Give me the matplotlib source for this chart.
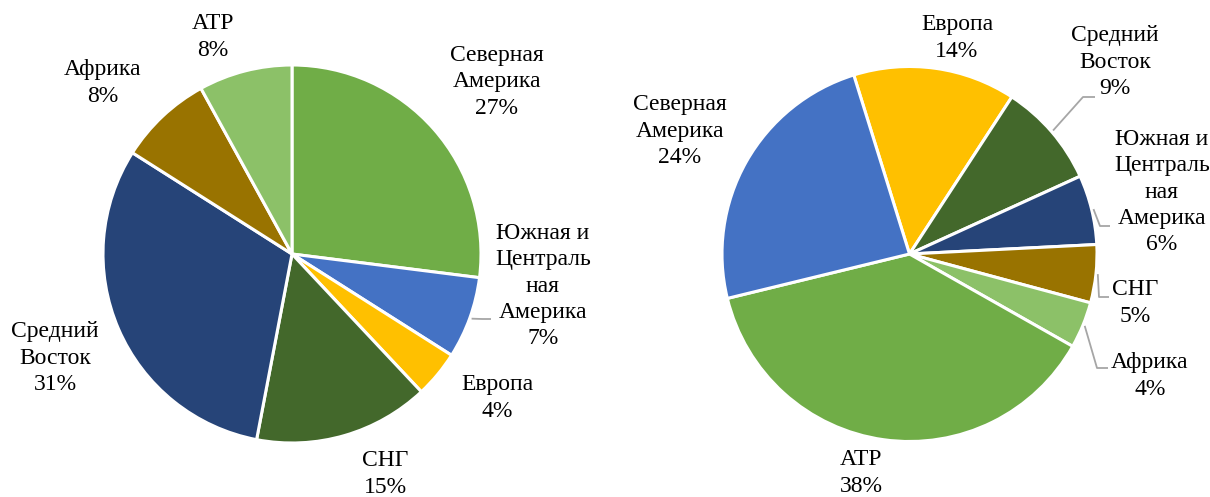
import numpy as np
import matplotlib
matplotlib.use('Agg')
import matplotlib.pyplot as plt

plt.rcParams['font.family'] = ['Liberation Serif', 'DejaVu Serif']

# left chart
left_names = ['Северная\nАмерика', 'Южная и\nЦентраль\nная\nАмерика', 'Европа',
              'СНГ', 'Средний\nВосток', 'Африка', 'АТР']
left_values = [27, 7, 4, 15, 31, 8, 8]
left_colors = ['#70AD47', '#4472C4', '#FFC000', '#43682B', '#264478', '#997300', '#8CC168']

# right chart
right_names = ['Европа', 'Средний\nВосток', 'Южная и\nЦентраль\nная\nАмерика', 'СНГ',
               'Африка', 'АТР', 'Северная\nАмерика']
right_values = [14, 9, 6, 5, 4, 38, 24]
right_colors = ['#FFC000', '#43682B', '#264478', '#997300', '#8CC168', '#70AD47', '#4472C4']

W, H = 1210, 497

# label centres in picture pixels (x, y from top)
left_lab = [(497, 82), (543, 286), (497, 398), (385, 474), (55, 358), (103, 83), (213, 37)]
right_lab = [(957, 38), (1115, 62), (1162, 192), (1135, 303), (1150, 376), (861, 473), (680, 131)]
# connectors: label index -> (elbow x, elbow y, end x) in picture pixels
left_lead = {1: (482, 319, 491)}
right_lead = {1: (1083, 97, 1095), 2: (1100, 226, 1110), 3: (1099, 297, 1109),
              4: (1097, 368, 1108)}

fig = plt.figure(figsize=(W / 100, H / 100), dpi=100)
ax = fig.add_axes([0, 0, 1, 1])


def draw(values, names, colors, center, radius, start, labels, leads):
    cx, cy = center[0], H - center[1]
    wedges, _ = ax.pie(values, colors=colors, startangle=start, counterclock=False,
                       center=(cx, cy), radius=radius, frame=True,
                       wedgeprops=dict(edgecolor='white', linewidth=2.2))
    for i, (w, name, v, (lx, ly)) in enumerate(zip(wedges, names, values, labels)):
        ax.text(lx, H - ly, '%s\n%d%%' % (name, v), ha='center', va='center',
                fontsize=17, linespacing=1.33, color='black')
        if i in leads:
            bx, by, ex = leads[i]
            mid = np.deg2rad((w.theta1 + w.theta2) / 2)
            sx = cx + radius * 1.01 * np.cos(mid)
            sy = cy + radius * 1.01 * np.sin(mid)
            ax.plot([sx, bx, ex], [sy, H - by, H - by], color='#A6A6A6', lw=1.3,
                    solid_capstyle='butt')


draw(left_values, left_names, left_colors, (292, 254), 189, 90, left_lab, left_lead)
draw(right_values, right_names, right_colors, (909.5, 254), 187.5, 107.3, right_lab, right_lead)

ax.set_xlim(0, W)
ax.set_ylim(0, H)
ax.set_aspect('auto')
ax.axis('off')

fig.savefig('out.png', dpi=100, facecolor='white')
